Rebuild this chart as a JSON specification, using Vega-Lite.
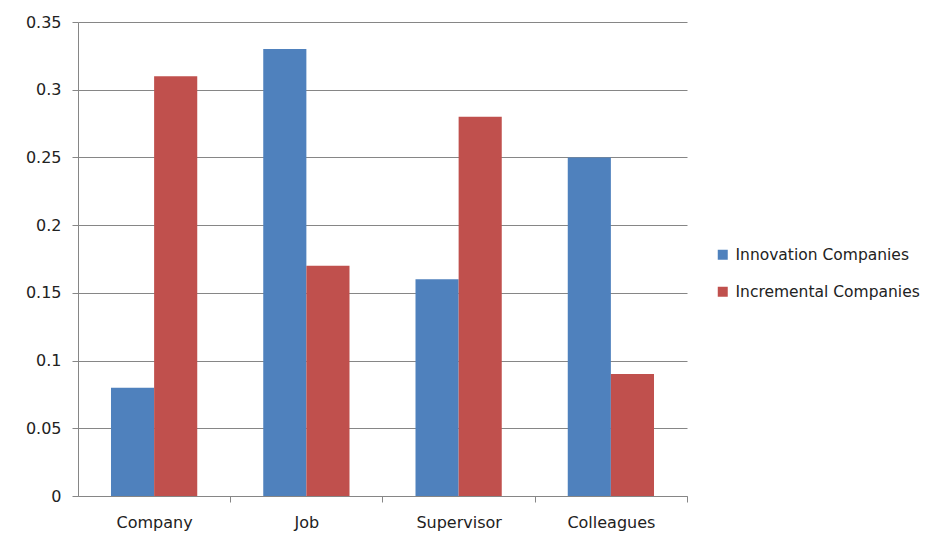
{
  "$schema": "https://vega.github.io/schema/vega-lite/v6.json",
  "width": 609,
  "height": 474,
  "autosize": "none",
  "padding": {"left": 78, "top": 22, "right": 250, "bottom": 46},
  "background": "white",
  "data": {
    "values": [
      {"category": "Company", "series": "Innovation Companies", "value": 0.08},
      {"category": "Company", "series": "Incremental Companies", "value": 0.31},
      {"category": "Job", "series": "Innovation Companies", "value": 0.33},
      {"category": "Job", "series": "Incremental Companies", "value": 0.17},
      {"category": "Supervisor", "series": "Innovation Companies", "value": 0.16},
      {"category": "Supervisor", "series": "Incremental Companies", "value": 0.28},
      {"category": "Colleagues", "series": "Innovation Companies", "value": 0.25},
      {"category": "Colleagues", "series": "Incremental Companies", "value": 0.09}
    ]
  },
  "mark": {"type": "bar"},
  "encoding": {
    "x": {
      "field": "category",
      "type": "nominal",
      "sort": ["Company", "Job", "Supervisor", "Colleagues"],
      "scale": {"paddingInner": 0.4335, "paddingOuter": 0.2167},
      "axis": {
        "title": null,
        "labelAngle": 0,
        "labelFont": "DejaVu Sans",
        "labelFontSize": 16,
        "labelColor": "#222222",
        "labelPadding": 12,
        "tickOffset": 76.125,
        "labelOffset": -76.125,
        "tickSize": 6,
        "tickColor": "#868686",
        "domainColor": "#868686",
        "grid": false
      }
    },
    "xOffset": {
      "field": "series",
      "type": "nominal",
      "sort": ["Innovation Companies", "Incremental Companies"],
      "scale": {"paddingInner": 0, "paddingOuter": 0}
    },
    "y": {
      "field": "value",
      "type": "quantitative",
      "scale": {"domain": [0, 0.35], "nice": false},
      "axis": {
        "title": null,
        "values": [0, 0.05, 0.1, 0.15, 0.2, 0.25, 0.3, 0.35],
        "format": "~g",
        "labelFont": "DejaVu Sans",
        "labelFontSize": 16,
        "labelColor": "#222222",
        "labelPadding": 11,
        "tickSize": 6,
        "tickColor": "#868686",
        "domainColor": "#868686",
        "gridColor": "#868686",
        "grid": true
      }
    },
    "color": {
      "field": "series",
      "type": "nominal",
      "sort": ["Innovation Companies", "Incremental Companies"],
      "scale": {"range": ["#4F81BD", "#C0504D"]},
      "legend": {
        "title": null,
        "orient": "none",
        "legendX": 637,
        "legendY": 225,
        "symbolType": "square",
        "symbolSize": 100,
        "symbolStrokeWidth": 0,
        "labelFont": "DejaVu Sans",
        "labelFontSize": 15.5,
        "labelColor": "#222222",
        "labelLimit": 300,
        "rowPadding": 20,
        "labelOffset": 5
      }
    }
  },
  "config": {"view": {"stroke": null}, "axis": {"domainWidth": 1, "gridWidth": 1}}
}
